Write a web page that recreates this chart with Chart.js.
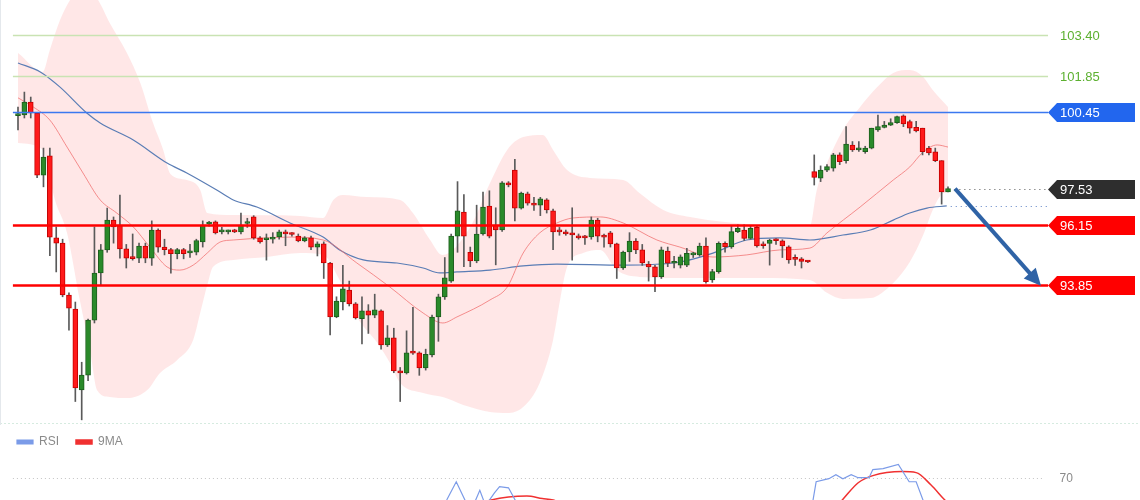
<!DOCTYPE html>
<html>
<head>
<meta charset="utf-8">
<script src="https://cdn.jsdelivr.net/npm/chart.js@4.4.1/dist/chart.umd.min.js"></script>
<style>
  html, body { margin: 0; padding: 0; background: #fff; overflow: hidden; }
  canvas { display: block; }
  #rsiChart { margin-top: -6px; }
</style>
</head>
<body>
<canvas id="priceChart" width="1140" height="425"></canvas>
<canvas id="rsiChart" width="1140" height="81"></canvas>
<script>
// candles (one per period)
const openP = [100.32,100.35,100.84,100.42,98.05,98.78,95.65,95.45,93.47,92.93,
  89.84,90.41,92.51,94.31,95.19,96.33,96.14,95.23,94.92,94.88,
  95.34,94.88,95.95,95.30,95.20,95.05,95.20,95.08,95.10,95.50,
  96.18,96.26,95.88,95.88,95.95,95.88,96.20,96.45,95.65,95.58,
  95.60,95.69,95.88,95.80,95.72,95.53,95.65,95.30,95.42,94.69,
  92.63,93.20,93.66,93.13,92.56,92.86,92.70,92.86,91.56,91.83,
  90.57,90.49,91.30,91.26,90.68,91.18,92.63,93.40,94.00,95.72,
  96.64,95.10,94.77,95.80,96.87,96.14,95.95,97.75,98.24,96.79,
  97.33,96.92,96.90,97.10,96.68,95.90,95.88,95.84,95.72,95.70,
  95.69,96.33,95.72,95.84,95.42,94.50,95.11,95.53,95.19,94.65,
  94.54,94.17,95.15,94.68,94.61,94.61,95.00,95.00,95.34,94.04,
  94.36,95.44,95.31,95.89,95.95,95.63,96.05,95.40,95.44,95.57,
  95.54,95.31,94.85,94.85,94.76,98.18,97.93,98.24,98.31,98.82,
  98.60,99.20,99.01,98.94,99.08,99.77,99.87,99.96,100.05,100.31,
  100.09,99.87,99.84,99.08,98.94,98.60,97.41];
const highP = [100.65,101.22,101.03,100.45,99.08,99.08,96.07,95.60,93.55,93.20,
  90.90,92.55,96.07,95.40,96.79,96.45,97.29,95.40,95.80,95.45,
  95.45,96.30,96.00,95.60,95.25,95.25,95.25,95.40,95.60,96.30,
  96.28,96.30,96.05,95.95,95.98,96.60,96.40,96.50,95.70,95.80,
  95.85,95.95,95.95,95.85,95.80,95.70,95.72,95.50,95.50,94.72,
  93.40,94.60,94.00,93.18,93.40,93.10,93.50,92.90,92.30,92.20,
  90.70,92.10,93.00,91.30,91.40,92.70,93.50,94.90,95.80,97.80,
  97.30,95.30,96.90,97.40,97.45,96.80,97.80,97.80,98.65,97.40,
  97.40,97.20,97.20,97.15,96.75,96.05,95.95,96.80,95.80,95.75,
  96.45,96.40,95.80,95.90,95.45,95.15,95.85,95.62,95.40,94.75,
  94.60,95.30,95.30,94.95,95.00,95.25,95.10,95.45,95.65,94.45,
  95.50,95.50,96.10,96.15,96.15,96.10,96.10,95.50,95.60,95.62,
  95.58,95.35,95.00,94.90,94.78,98.82,98.40,98.45,98.88,98.90,
  99.90,99.33,99.33,99.15,99.84,100.34,100.10,100.20,100.30,100.35,
  100.15,100.10,99.84,99.15,99.08,98.60,97.60];
const lowP = [99.77,100.23,100.23,97.95,97.60,94.97,94.35,93.40,92.13,89.40,
  88.70,90.20,92.40,93.85,95.10,95.45,94.88,94.50,94.80,94.70,
  94.70,94.60,95.10,95.00,94.30,94.85,94.85,94.90,95.00,95.30,
  96.10,95.80,95.80,95.80,95.85,95.80,96.05,95.60,95.45,94.80,
  95.45,95.60,95.35,95.72,95.50,95.50,95.20,94.96,94.10,91.94,
  92.60,92.90,93.05,92.55,91.60,92.00,92.60,91.40,91.50,90.50,
  89.40,90.45,91.20,90.40,90.60,91.10,91.70,93.30,93.95,95.10,
  94.55,94.55,94.70,95.75,95.65,94.62,95.90,97.60,96.30,96.75,
  96.90,96.70,96.50,96.60,95.20,95.75,95.75,94.80,95.60,95.40,
  95.60,95.50,95.30,95.30,94.10,94.45,94.75,95.05,94.60,94.00,
  93.60,94.10,94.55,94.50,94.50,94.55,94.90,94.95,93.92,93.95,
  94.30,95.10,95.25,95.85,95.55,95.60,95.30,95.25,94.61,95.40,
  94.90,94.68,94.60,94.50,94.70,97.67,97.80,98.18,98.20,98.45,
  98.50,98.95,98.95,98.88,99.05,99.72,99.85,99.94,100.02,99.90,
  99.65,99.70,98.82,98.82,98.56,96.94,97.41];
const closeP = [100.36,100.84,100.42,98.05,98.74,95.68,95.45,93.47,92.97,89.92,
  90.41,92.51,94.31,95.19,96.33,96.07,95.23,94.88,94.86,95.34,
  94.88,95.95,95.30,95.20,95.05,95.20,95.05,95.12,95.55,96.14,
  96.22,95.84,95.90,95.90,95.88,96.14,96.24,95.65,95.50,95.62,
  95.68,95.88,95.80,95.78,95.53,95.65,95.30,95.42,94.69,92.63,
  93.24,93.70,93.13,92.59,92.86,92.70,92.90,91.56,91.83,90.57,
  90.49,91.26,91.25,90.68,91.20,92.63,93.40,94.12,95.72,96.68,
  95.72,94.77,95.80,96.83,95.72,95.95,97.75,97.67,96.79,97.36,
  96.98,96.90,97.14,96.72,95.88,95.88,95.80,95.76,95.65,95.65,
  96.33,95.72,95.68,95.42,94.50,95.11,95.53,95.19,94.69,94.54,
  94.16,95.19,94.68,94.74,94.93,95.06,95.02,95.34,93.98,94.36,
  95.44,95.31,95.89,96.02,95.63,96.02,95.34,95.35,95.57,95.54,
  95.34,94.81,94.83,94.75,94.73,97.96,98.24,98.37,98.82,98.56,
  99.23,99.01,99.01,99.08,99.84,99.90,99.96,100.05,100.28,100.00,
  99.84,99.74,98.94,98.90,98.60,97.41,97.53];

// bollinger band and averages: [candle index, price]
const upperBand = [[0,102.71],[3.9,101.99],[5,102.83],[6.6,103.97],[8.5,104.85],[10.5,105.2],[12.4,104.8],
  [14.4,103.86],[17.1,102.71],[19.2,101.57],[21.2,100.04],[22.8,99.01],[23.9,98.1],[26.5,97.86],
  [28.6,97.48],[29.7,96.6],[33.8,96.52],[44.3,96.49],[47.9,96.41],[49.5,97.1],[51,97.29],
  [54.8,97.21],[60,97.1],[62,96.6],[64.7,95.57],[66.6,95.0],[71,96.07],[74.1,97.75],[76.8,99.01],
  [79.3,99.5],[82.4,99.58],[84,99.01],[86.2,98.24],[89.8,97.94],[95,97.86],[97.6,97.36],
  [101.3,96.72],[105.5,96.45],[116.5,96.14],[124.3,96.07],[125.4,97.48],[127,98.51],[129.5,99.77],
  [132.2,100.65],[134.9,101.41],[137.4,101.95],[140,102.06],[142.1,101.8],[143.6,101.3],[146,100.65]];
const lowerBand = [[0,99.27],[3.9,99.01],[5,97.9],[5.8,97.1],[7.7,95.84],[9.7,93.28],[11.3,91.37],
  [12.4,89.84],[14.4,89.57],[17.1,89.53],[20.3,89.84],[22.3,90.49],[25,90.99],[27.5,91.75],
  [28.6,92.78],[29.8,93.93],[30.6,94.54],[33.8,94.81],[39.1,94.92],[44.3,95.07],[47.9,95.0],
  [50.5,94.04],[53.2,92.63],[56.4,91.64],[58.4,90.87],[60,90.11],[63.6,89.73],[66.7,89.57],
  [69.9,89.27],[74.1,89.0],[76.8,88.96],[79.3,89.19],[81.9,90.11],[84,91.75],[85.1,93.28],
  [86.2,94.54],[88.7,95.07],[91.4,95.19],[94,94.42],[97.6,94.16],[105.5,94.12],[116.5,94.12],
  [124.3,94.04],[127,93.55],[129.5,93.32],[133.8,93.35],[137.4,93.93],[140,94.73],[142.1,95.76],
  [143.6,96.72],[144.9,97.29],[146,97.4]];
const midBand = [[0,101.0],[2.4,100.65],[5,100.15],[7.7,99.12],[10.2,98.13],[12.9,97.1],[15.5,96.6],
  [18.1,96.07],[20.7,95.3],[23.4,94.54],[25.4,94.42],[27.5,94.61],[29.7,95.07],[31.7,95.49],
  [33.8,95.57],[39.1,95.65],[42.7,95.68],[47.9,95.57],[53.2,94.69],[58.4,93.77],[63.6,92.78],
  [66.7,92.4],[68.9,92.63],[74.1,93.28],[76.8,93.77],[79.3,95.07],[81.9,95.84],[84.6,96.22],
  [87.1,96.41],[91.4,96.45],[95,96.22],[100.3,95.57],[103.9,95.3],[109.1,94.92],[114.4,95.0],
  [119.6,95.19],[124.3,95.26],[127,95.84],[132.2,96.83],[137.4,97.86],[140,98.36],[142.1,98.93],
  [144.3,99.2],[146,99.12]];
const slowMA = [[0,102.33],[3.5,101.99],[6.6,101.41],[10.8,100.42],[12.9,100.04],[18.1,99.39],
  [23.4,98.51],[26.5,98.13],[31.2,97.48],[33.8,97.1],[37.5,96.83],[42.7,96.22],[47.9,95.68],
  [50.5,95.19],[54.2,94.81],[59.5,94.69],[63.6,94.5],[66.2,94.31],[68.9,94.35],[74.1,94.42],
  [79.3,94.58],[84.6,94.65],[95,94.61],[103.9,94.73],[109.1,95.07],[114.4,95.57],[119.6,95.65],
  [124.3,95.57],[129.5,95.76],[133.8,95.95],[137.4,96.33],[140,96.6],[142.7,96.79],[145.8,96.87]];

// horizontal levels on the right
const levelPrices = [103.40, 101.85, 100.45, 97.53, 96.15, 93.85];
const levelKinds = ['target', 'target', 'resist', 'last', 'support', 'support'];
const arrowFrom = [147.1, 97.53];
const arrowTo = [160.6, 93.82];

// RSI panel: [candle index, value]
const rsiLine = [[62,52],[66,56],[67.3,61.2],[68.8,68.4],[70.2,61],[71.3,58],[72.5,65],[73.4,59],
  [74.8,64],[75.6,66.5],[77,66],[78.3,60],[80,55],[90,50],[110,48],[122,45],[124.8,61],[125.3,68.4],
  [127.3,69.6],[128.4,71.2],[129.5,69.6],[130.8,71.2],[131.9,70],[133.6,70],[134.2,73.2],
  [135.8,73.6],[138.2,75.2],[139.9,68.4],[141,68.4],[142.1,61],[144,52],[146,48]];
const rsiAvg = [[68,55],[71,58.5],[74.3,61.2],[77,62.4],[79.9,62.8],[82.3,61.8],[84,61.2],[87,58],
  [100,50],[120,46],[126,52],[129.4,61.2],[131.9,68],[134.2,70.8],[138.8,72.4],[141,72],
  [143.3,67.2],[145.5,61.2],[146,60]];
const rsiLevel = 70;

const GREEN = '#2a8a2a', RED = '#ff1a1a';
const FONT = '"Liberation Sans", Arial, sans-serif';
const X_MIN = -2.826, X_MAX = 176.14;

const pts = arr => arr.map(p => ({x: p[0], y: p[1]}));
const up = openP.map((o, i) => closeP[i] >= o);

function levelStyle(kind) {
    if (kind === 'target') return {line: '#c9e3b3', width: 1.5, text: '#5cb030', box: null};
    if (kind === 'resist') return {line: '#3b78f0', width: 1.5, text: '#fff', box: '#2266ee'};
    if (kind === 'last') return {line: '#555', width: 1, text: '#fff', box: '#2e2e2e', dotted: true};
    return {line: '#ff0000', width: 2.5, text: '#fff', box: '#ff0000'};
}

function drawArrowHead(ctx, x0, y0, x1, y1) {
    const a = Math.atan2(y1 - y0, x1 - x0);
    const len = 17, half = 8;
    ctx.beginPath();
    ctx.moveTo(x1, y1);
    ctx.lineTo(x1 - len * Math.cos(a) + half * Math.sin(a), y1 - len * Math.sin(a) - half * Math.cos(a));
    ctx.lineTo(x1 - len * Math.cos(a) - half * Math.sin(a), y1 - len * Math.sin(a) + half * Math.cos(a));
    ctx.closePath();
    ctx.fill();
}

const overlay = {
    id: 'overlay',
    afterDatasetsDraw(chart) {
        const ctx = chart.ctx, xs = chart.scales.x, ys = chart.scales.y;
        const left = xs.getPixelForValue(-0.8);
        const right = xs.getPixelForValue(161.7);
        const boxEnd = chart.width - 5;
        ctx.save();

        // separator and left edge
        ctx.strokeStyle = '#d6ebe0';
        ctx.lineWidth = 1;
        ctx.setLineDash([2, 2]);
        ctx.beginPath();
        ctx.moveTo(0, chart.height - 1.5);
        ctx.lineTo(chart.width, chart.height - 1.5);
        ctx.stroke();
        ctx.setLineDash([]);
        ctx.strokeStyle = '#e4e8ec';
        ctx.beginPath();
        ctx.moveTo(0.5, 0);
        ctx.lineTo(0.5, chart.height);
        ctx.stroke();

        // dotted continuation of the slow average
        const last = slowMA[slowMA.length - 1];
        const ly = Math.round(ys.getPixelForValue(last[1])) + 0.5;
        ctx.strokeStyle = '#5b7fc4';
        ctx.setLineDash([1, 4]);
        ctx.beginPath();
        ctx.moveTo(xs.getPixelForValue(last[0]) + 4, ly);
        ctx.lineTo(right, ly);
        ctx.stroke();
        ctx.setLineDash([]);

        ctx.font = '13px ' + FONT;
        ctx.textBaseline = 'middle';
        levelPrices.forEach((p, i) => {
            const st = levelStyle(levelKinds[i]);
            const y = Math.round(ys.getPixelForValue(p)) + 0.5;
            ctx.strokeStyle = st.line;
            ctx.lineWidth = st.width;
            ctx.beginPath();
            if (st.dotted) {
                ctx.setLineDash([1, 4]);
                ctx.moveTo(xs.getPixelForValue(openP.length), y);
            } else {
                ctx.moveTo(left, y);
            }
            ctx.lineTo(right, y);
            ctx.stroke();
            ctx.setLineDash([]);
            if (st.box) {
                ctx.fillStyle = st.box;
                ctx.beginPath();
                ctx.moveTo(right, y);
                ctx.lineTo(right + 9, y - 9.5);
                ctx.lineTo(boxEnd, y - 9.5);
                ctx.lineTo(boxEnd, y + 9.5);
                ctx.lineTo(right + 9, y + 9.5);
                ctx.closePath();
                ctx.fill();
            }
            ctx.fillStyle = st.text;
            ctx.fillText(p.toFixed(2), right + 12, y + 1);
        });

        // projected move
        const ax0 = xs.getPixelForValue(arrowFrom[0]), ay0 = ys.getPixelForValue(arrowFrom[1]);
        const ax1 = xs.getPixelForValue(arrowTo[0]), ay1 = ys.getPixelForValue(arrowTo[1]);
        const a = Math.atan2(ay1 - ay0, ax1 - ax0);
        ctx.strokeStyle = '#2f63a6';
        ctx.fillStyle = '#2f63a6';
        ctx.lineWidth = 4;
        ctx.beginPath();
        ctx.moveTo(ax0, ay0);
        ctx.lineTo(ax1 - 12 * Math.cos(a), ay1 - 12 * Math.sin(a));
        ctx.stroke();
        drawArrowHead(ctx, ax0, ay0, ax1, ay1);
        ctx.restore();
    }
};

new Chart(document.getElementById('priceChart'), {
    type: 'bar',
    data: {
        datasets: [
            {
                type: 'bar',
                label: 'body',
                data: openP.map((o, i) => ({x: i, y: [o, closeP[i]]})),
                backgroundColor: up.map(u => u ? GREEN : RED),
                borderColor: up.map(u => u ? '#1d5e1d' : '#c40000'),
                borderWidth: 1,
                borderSkipped: false,
                barThickness: 5,
                minBarLength: 2,
                grouped: false,
                order: 0
            },
            {
                type: 'bar',
                label: 'wick',
                data: lowP.map((l, i) => ({x: i, y: [l, highP[i]]})),
                backgroundColor: '#5a5a5a',
                barThickness: 1,
                grouped: false,
                order: 1
            },
            {
                type: 'line',
                label: 'mid',
                data: pts(midBand),
                borderColor: 'rgba(240,110,110,0.75)',
                borderWidth: 1,
                pointRadius: 0,
                cubicInterpolationMode: 'monotone',
                order: 2
            },
            {
                type: 'line',
                label: 'slow',
                data: pts(slowMA),
                borderColor: '#5a7db5',
                borderWidth: 1.2,
                pointRadius: 0,
                cubicInterpolationMode: 'monotone',
                order: 2
            },
            {
                type: 'line',
                label: 'upper',
                data: pts(upperBand),
                borderWidth: 0,
                borderColor: 'rgba(0,0,0,0)',
                backgroundColor: 'rgba(255,40,40,0.11)',
                pointRadius: 0,
                cubicInterpolationMode: 'monotone',
                fill: '+1',
                order: 3
            },
            {
                type: 'line',
                label: 'lower',
                data: pts(lowerBand),
                borderWidth: 0,
                borderColor: 'rgba(0,0,0,0)',
                pointRadius: 0,
                cubicInterpolationMode: 'monotone',
                fill: false,
                order: 3
            }
        ]
    },
    options: {
        responsive: false,
        animation: false,
        events: [],
        layout: {padding: 0},
        plugins: {legend: {display: false}, tooltip: {enabled: false}},
        scales: {
            x: {type: 'linear', min: X_MIN, max: X_MAX, offset: false, display: false},
            y: {min: 88.503, max: 104.737, display: false}
        }
    },
    plugins: [overlay]
});

const rsiOverlay = {
    id: 'rsiOverlay',
    beforeDatasetsDraw(chart) {
        const ctx = chart.ctx, xs = chart.scales.x, ys = chart.scales.y;
        const y = Math.round(ys.getPixelForValue(rsiLevel)) + 0.5;
        ctx.save();
        ctx.strokeStyle = '#c4c4c4';
        ctx.lineWidth = 1;
        ctx.setLineDash([1, 3]);
        ctx.beginPath();
        ctx.moveTo(xs.getPixelForValue(-0.8), y);
        ctx.lineTo(xs.getPixelForValue(161.2), y);
        ctx.stroke();
        ctx.setLineDash([]);
        ctx.fillStyle = '#8a8a8a';
        ctx.font = '12px ' + FONT;
        ctx.textBaseline = 'middle';
        ctx.fillText(String(rsiLevel), xs.getPixelForValue(163.5), y);
        ctx.restore();
    }
};

new Chart(document.getElementById('rsiChart'), {
    type: 'line',
    data: {
        datasets: [
            {
                label: 'RSI',
                data: pts(rsiLine),
                borderColor: '#7b9be8',
                backgroundColor: '#7b9be8',
                borderWidth: 1.2,
                pointRadius: 0,
                tension: 0,
                clip: false
            },
            {
                label: '9MA',
                data: pts(rsiAvg),
                borderColor: '#f03030',
                backgroundColor: '#f03030',
                borderWidth: 1.5,
                pointRadius: 0,
                cubicInterpolationMode: 'monotone',
                clip: false
            }
        ]
    },
    options: {
        responsive: false,
        animation: false,
        events: [],
        layout: {padding: 0},
        plugins: {
            tooltip: {enabled: false},
            legend: {
                position: 'top',
                align: 'start',
                labels: {
                    boxWidth: 16,
                    boxHeight: 4,
                    padding: 17,
                    color: '#8a8a8a',
                    font: {size: 12, family: FONT}
                }
            }
        },
        scales: {
            x: {type: 'linear', min: X_MIN, max: X_MAX, display: false},
            y: {min: 61.2, max: 77.76, display: false}
        }
    },
    plugins: [rsiOverlay]
});
</script>
</body>
</html>
